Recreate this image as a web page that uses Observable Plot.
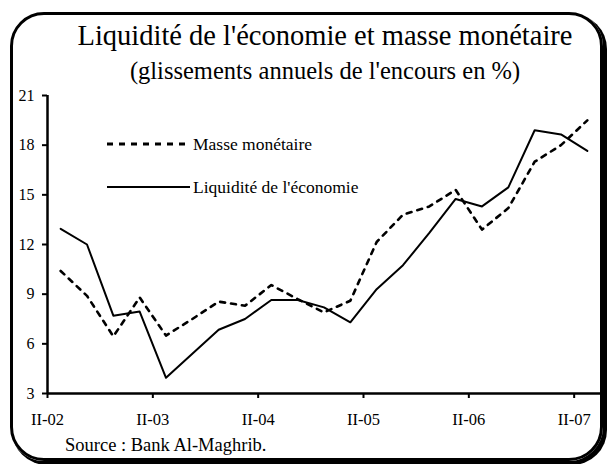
<!DOCTYPE html>
<html>
<head>
<meta charset="utf-8">
<script src="https://cdn.jsdelivr.net/npm/d3@7"></script>
<script src="https://cdn.jsdelivr.net/npm/@observablehq/plot@0.6"></script>
<style>
  html, body { margin: 0; padding: 0; background: #fff; }
  #wrap { position: relative; width: 607px; height: 464px; background: #fff; overflow: hidden;
          font-family: "Liberation Serif", "Times New Roman", serif; color: #000; }
  #frame { position: absolute; left: 10px; top: 12px; width: 587px; height: 443px;
           border: 3px solid #000; border-radius: 34px; box-shadow: 3px 3px 0 1px #000; }
  .ttl { position: absolute; left: 25px; width: 600px; text-align: center; white-space: nowrap; line-height: 1; }
  #title { top: 22px; font-size: 28.5px; }
  #subtitle { top: 59px; font-size: 24.5px; }
  #plot { position: absolute; left: 0; top: 80px; }
  #legend { position: absolute; left: 0; top: 0; }
  #source { position: absolute; left: 65px; top: 436px; font-size: 18.5px; white-space: nowrap; line-height: 1; }
</style>
</head>
<body>
<div id="wrap">
  <div id="frame"></div>
  <div id="title" class="ttl">Liquidité de l'économie et masse monétaire</div>
  <div id="subtitle" class="ttl">(glissements annuels de l'encours en %)</div>
  <div id="plot"></div>
  <svg id="legend" width="607" height="464"></svg>
  <div id="source">Source : Bank Al-Maghrib.</div>
</div>
<script>
// ---- data (quarterly year-on-year growth, %) ----
const seriesNames = ["Masse monétaire", "Liquidité de l'économie"];
const masseMonetaire = [10.4, 8.9, 6.45, 8.8, 6.5, 7.5, 8.55, 8.3, 9.55, 8.7, 7.9, 8.6, 12.15, 13.8, 14.3, 15.3, 12.9, 14.2, 17.0, 18.0, 19.5];
const liquiditeEconomie = [12.95, 12.0, 7.7, 7.95, 3.95, 5.4, 6.85, 7.5, 8.65, 8.65, 8.2, 7.3, 9.3, 10.75, 12.7, 14.75, 14.3, 15.45, 18.9, 18.65, 17.65];
const tickLabels = ["II-02", "II-03", "II-04", "II-05", "II-06", "II-07"];
const yTicks = [3, 6, 9, 12, 15, 18, 21];

const rowsM = masseMonetaire.map((v, i) => ({i, v}));
const rowsL = liquiditeEconomie.map((v, i) => ({i, v}));
const n = masseMonetaire.length;
const xTickPos = tickLabels.map((_, k) => 4 * k - 0.5);
const font = "Liberation Serif, Times New Roman, serif";

const chart = Plot.plot({
  width: 607,
  height: 360,
  marginLeft: 47,
  marginRight: 7,
  marginTop: 15,
  marginBottom: 47,
  style: {fontFamily: font, fontSize: "16px", color: "#000", background: "transparent"},
  x: {domain: [-0.5, n - 0.5], axis: null},
  y: {domain: [3, 21], axis: null},
  marks: [
    Plot.axisY({ticks: yTicks, tickSize: 5, tickPadding: 8, strokeWidth: 2, fontSize: 16, label: null, tickFormat: d => d}),
    Plot.axisX({ticks: xTickPos, tickSize: 5, tickPadding: 15, strokeWidth: 2, fontSize: 16.5, label: null,
                tickFormat: (d) => tickLabels[xTickPos.indexOf(d)]}),
    Plot.ruleX([-0.5], {y1: 3, y2: 21, strokeWidth: 2.5}),
    Plot.ruleY([3], {x1: -0.5, x2: n - 0.5, strokeWidth: 2.5}),
    Plot.line(rowsM, {x: "i", y: "v", stroke: "#000", strokeWidth: 2.6, strokeDasharray: "5,6"}),
    Plot.line(rowsL, {x: "i", y: "v", stroke: "#000", strokeWidth: 2})
  ]
});
document.getElementById("plot").appendChild(chart);

// legend
const lg = d3.select("#legend");
const legendItems = [
  {name: seriesNames[0], dash: "6,6", w: 2.8, y: 144},
  {name: seriesNames[1], dash: null, w: 2, y: 187}
];
legendItems.forEach(d => {
  lg.append("line").attr("x1", 107).attr("x2", 190).attr("y1", d.y).attr("y2", d.y)
    .attr("stroke", "#000").attr("stroke-width", d.w).attr("stroke-dasharray", d.dash);
  lg.append("text").attr("x", 193).attr("y", d.y).attr("dy", "0.35em")
    .attr("font-family", font).attr("font-size", 17.5).text(d.name);
});
</script>
</body>
</html>
